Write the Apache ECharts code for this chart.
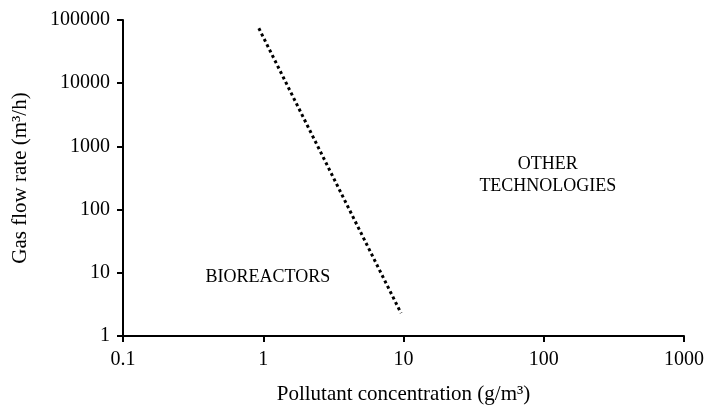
<!DOCTYPE html>
<html>
<head>
<meta charset="utf-8">
<script src="https://cdn.jsdelivr.net/npm/echarts@6/dist/echarts.min.js"></script>
<style>
  html, body { margin: 0; padding: 0; background: #fff; }
  #chart { width: 707px; height: 405px; }
</style>
</head>
<body>
<div id="chart"></div>
<script>
// boundary line between the two regions
const boundaryX = [0.93, 9.6];
const boundaryY = [74000, 2.3];

// region labels
const regionNames = ['BIOREACTORS', 'OTHER\nTECHNOLOGIES'];
const regionX = [1.08, 107];
const regionY = [8.6, 352];

const font = 'Liberation Serif';

var myChart = echarts.init(document.getElementById('chart'));

myChart.setOption({
  animation: false,
  grid: { left: 123, right: 23, top: 20, bottom: 69, outerBoundsMode: 'none', containLabel: false },
  xAxis: {
    type: 'log',
    logBase: 10,
    min: 0.1,
    max: 1000,
    name: 'Pollutant concentration (g/m³)',
    nameLocation: 'middle',
    nameGap: 48,
    nameTextStyle: { fontFamily: font, fontSize: 21, color: '#000' },
    axisLine: { lineStyle: { color: '#000', width: 2 } },
    axisTick: { length: 6, lineStyle: { color: '#000', width: 2 } },
    axisLabel: {
      fontFamily: font, fontSize: 20, color: '#000', margin: 14,
      formatter: v => String(v)
    },
    splitLine: { show: false },
    minorTick: { show: false }
  },
  yAxis: {
    type: 'log',
    logBase: 10,
    min: 1,
    max: 100000,
    name: 'Gas flow rate (m³/h)',
    nameLocation: 'middle',
    nameGap: 92,
    nameTextStyle: { fontFamily: font, fontSize: 21, color: '#000' },
    axisLine: { lineStyle: { color: '#000', width: 2 } },
    axisTick: { length: 6, lineStyle: { color: '#000', width: 2 } },
    axisLabel: {
      fontFamily: font, fontSize: 20, color: '#000', margin: 13,
      formatter: v => String(v)
    },
    splitLine: { show: false },
    minorTick: { show: false }
  },
  series: [
    {
      type: 'line',
      data: boundaryX.map((x, i) => [x, boundaryY[i]]),
      symbol: 'none',
      lineStyle: { color: '#000', width: 3, type: [3, 3] }
    },
    {
      type: 'scatter',
      data: regionX.map((x, i) => ({ value: [x, regionY[i]], name: regionNames[i] })),
      symbolSize: 1,
      itemStyle: { color: 'rgba(0,0,0,0)', opacity: 1 },
      label: {
        show: true,
        position: 'inside',
        formatter: p => p.name,
        fontFamily: font,
        fontSize: 18,
        color: '#000',
        opacity: 1,
        lineHeight: 22,
        align: 'center'
      }
    }
  ]
});
</script>
</body>
</html>
